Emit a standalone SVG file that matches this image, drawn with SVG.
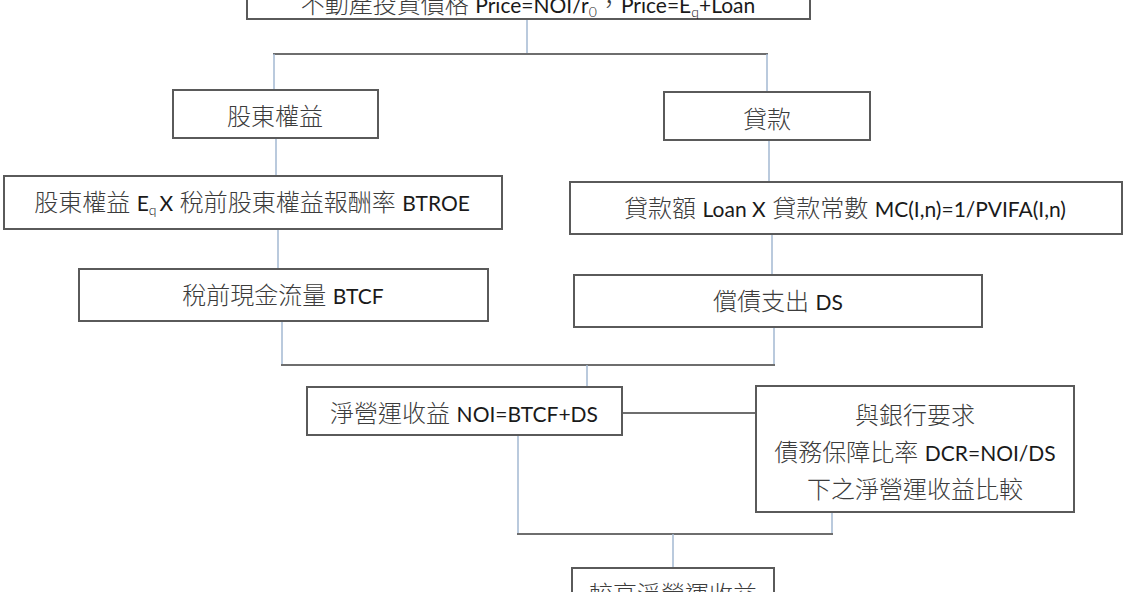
<svg xmlns="http://www.w3.org/2000/svg" width="1128" height="592" viewBox="0 0 1128 592">
<style>
.box{fill:#ffffff;stroke:#5a5a5a;stroke-width:2}
.t{font-family:"Lato","Noto Sans CJK TC","Noto Sans CJK SC",sans-serif;font-size:24px;fill:#3c3c3c;font-weight:300;text-anchor:middle}
.lat{font-family:"Lato",sans-serif;font-size:21px;fill:#1a1a1a;font-weight:400}
.sub{font-family:"Lato",sans-serif;font-size:14px;fill:#1a1a1a}
.h{stroke:#6e6e6e;stroke-width:2;fill:none}
.v{stroke:#a3b8d2;stroke-width:1.5;fill:none}
</style>
<rect width="1128" height="592" fill="#ffffff"/>
<g id="connectors">
<line class="v" x1="527" y1="19" x2="527" y2="54"/>
<line class="h" x1="273" y1="54" x2="768" y2="54"/>
<line class="v" x1="274" y1="54" x2="274" y2="90"/>
<line class="v" x1="767" y1="54" x2="767" y2="92"/>
<line class="v" x1="276" y1="138" x2="276" y2="176"/>
<line class="v" x1="769" y1="140" x2="769" y2="182"/>
<line class="v" x1="278" y1="229" x2="278" y2="269"/>
<line class="v" x1="772" y1="234" x2="772" y2="275"/>
<line class="v" x1="282" y1="321" x2="282" y2="365"/>
<line class="v" x1="774" y1="327" x2="774" y2="365"/>
<line class="h" x1="281" y1="365" x2="775" y2="365"/>
<line class="v" x1="587" y1="365" x2="587" y2="387"/>
<line class="h" x1="622" y1="413" x2="756" y2="413"/>
<line class="v" x1="518" y1="435" x2="518" y2="534"/>
<line class="v" x1="832" y1="512" x2="832" y2="534"/>
<line class="h" x1="517" y1="534" x2="833" y2="534"/>
<line class="v" x1="673" y1="534" x2="673" y2="568"/>
</g>
<g id="node-price">
<rect class="box" x="247" y="-30" width="563" height="49"/>
<text class="t" x="528" y="13">不動產投資價格 <tspan class="lat">Price=NOI/r</tspan><tspan class="sub" dy="4">0</tspan><tspan dy="-4">，</tspan><tspan class="lat">Price=E</tspan><tspan class="sub" dy="4">q</tspan><tspan class="lat" dy="-4">+Loan</tspan></text>
</g>
<g id="node-equity">
<rect class="box" x="173" y="90" width="205" height="48"/>
<text class="t" x="275" y="125">股東權益</text>
</g>
<g id="node-loan">
<rect class="box" x="664" y="92" width="206" height="48"/>
<text class="t" x="767" y="128">貸款</text>
</g>
<g id="node-btroe">
<rect class="box" x="4" y="176" width="498" height="53"/>
<text class="t" x="252" y="211">股東權益 <tspan class="lat">E</tspan><tspan class="sub" dy="4">q</tspan><tspan class="lat" dy="-4" dx="3">X</tspan> 稅前股東權益報酬率 <tspan class="lat">BTROE</tspan></text>
</g>
<g id="node-mc">
<rect class="box" x="570" y="182" width="552" height="52"/>
<text class="t" x="845" y="217">貸款額 <tspan class="lat">Loan X</tspan> 貸款常數 <tspan class="lat">MC(I,n)=1/PVIFA(I,n)</tspan></text>
</g>
<g id="node-btcf">
<rect class="box" x="79" y="269" width="409" height="52"/>
<text class="t" x="283" y="304">稅前現金流量 <tspan class="lat">BTCF</tspan></text>
</g>
<g id="node-ds">
<rect class="box" x="574" y="275" width="408" height="52"/>
<text class="t" x="778" y="310">償債支出 <tspan class="lat">DS</tspan></text>
</g>
<g id="node-noi">
<rect class="box" x="307" y="387" width="315" height="48"/>
<text class="t" x="464" y="422">淨營運收益 <tspan class="lat">NOI=BTCF+DS</tspan></text>
</g>
<g id="node-dcr">
<rect class="box" x="756" y="386" width="318" height="126"/>
<text class="t" x="915" y="424">與銀行要求</text>
<text class="t" x="915" y="461">債務保障比率 <tspan class="lat">DCR=NOI/DS</tspan></text>
<text class="t" x="915" y="498">下之淨營運收益比較</text>
</g>
<g id="node-higher">
<rect class="box" x="572" y="568" width="202" height="48"/>
<text class="t" x="673" y="603">較高淨營運收益</text>
</g>
</svg>
